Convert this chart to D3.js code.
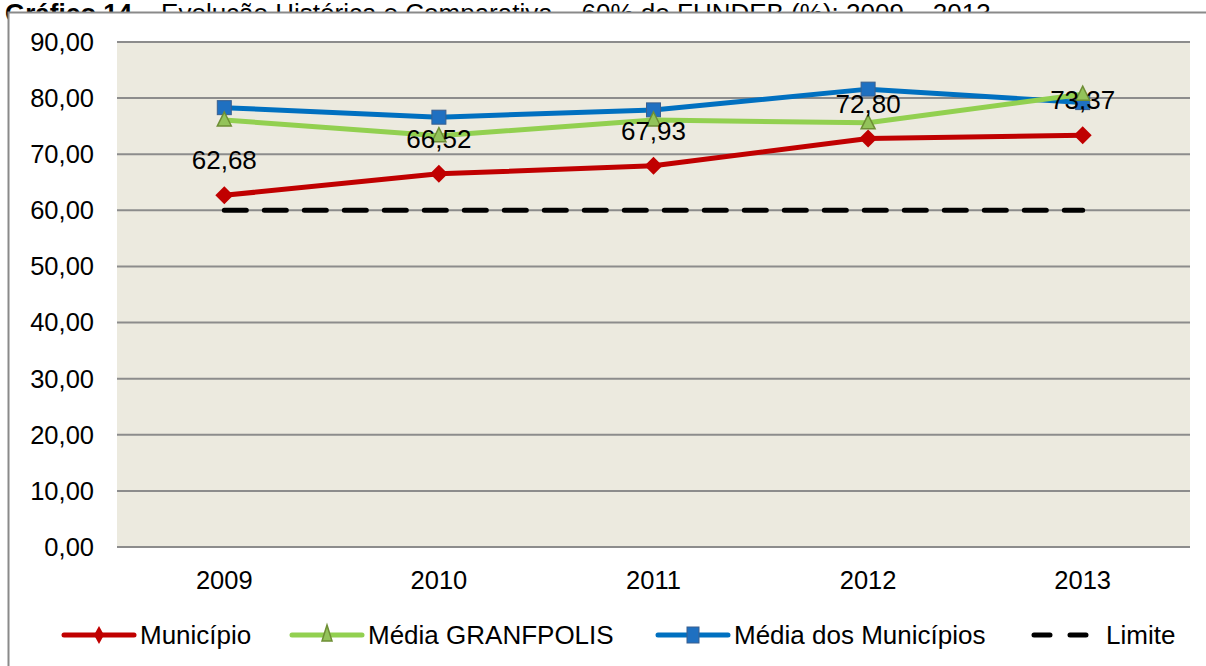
<!DOCTYPE html>
<html>
<head>
<meta charset="utf-8">
<script src="https://cdn.jsdelivr.net/npm/d3@7/dist/d3.min.js"></script>
<style>
  body { margin: 0; background: #fff; }
  svg { font-family: "Liberation Sans", Arial, sans-serif; }
</style>
</head>
<body>
<svg id="chart" width="1206" height="666"></svg>
<script>
const years = ["2009", "2010", "2011", "2012", "2013"];
const municipio = [62.68, 66.52, 67.93, 72.80, 73.37];
const mediaGranfpolis = [76.1, 73.3, 76.1, 75.6, 80.7];
const mediaMunicipios = [78.3, 76.6, 77.9, 81.6, 79.2];
const limite = [60, 60, 60, 60, 60];
const yTicks = [0, 10, 20, 30, 40, 50, 60, 70, 80, 90];

const svg = d3.select("#chart");
const margin = { left: 117, right: 16, top: 42, bottom: 119 };
const W = 1206, H = 666;

// title, mostly hidden behind the chart frame
svg.append("text")
  .attr("x", 5).attr("y", 22)
  .attr("font-size", 26)
  .html('<tspan font-weight="bold">Gráfico 14</tspan> – Evolução Histórica e Comparativa – 60% do FUNDEB (%): 2009 – 2013');

// chart frame
svg.append("rect")
  .attr("x", 8.5).attr("y", 12.5)
  .attr("width", 1220).attr("height", 700)
  .attr("fill", "#fff").attr("stroke", "#8a8a8a").attr("stroke-width", 2);

const x = d3.scaleBand().domain(years).range([margin.left, W - margin.right]);
const y = d3.scaleLinear().domain([0, 90]).range([H - margin.bottom, margin.top]);

svg.append("rect")
  .attr("x", margin.left).attr("y", margin.top)
  .attr("width", W - margin.right - margin.left)
  .attr("height", H - margin.bottom - margin.top)
  .attr("fill", "#ECEADF");

// gridlines
svg.append("g")
  .selectAll("line")
  .data(yTicks)
  .join("line")
  .attr("x1", margin.left).attr("x2", W - margin.right)
  .attr("y1", d => y(d)).attr("y2", d => y(d))
  .attr("stroke", "#8c8c8c").attr("stroke-width", 2);

const fmt = d => d3.format(".2f")(d).replace(".", ",");

// y axis labels
svg.append("g")
  .selectAll("text")
  .data(yTicks)
  .join("text")
  .attr("x", 94).attr("y", d => y(d))
  .attr("dy", "0.35em")
  .attr("text-anchor", "end")
  .attr("font-size", 25.5)
  .text(fmt);

// x axis labels
svg.append("g")
  .selectAll("text")
  .data(years)
  .join("text")
  .attr("x", d => x(d) + x.bandwidth() / 2)
  .attr("y", 580)
  .attr("dy", "0.35em")
  .attr("text-anchor", "middle")
  .attr("font-size", 25.5)
  .text(d => d);

const cx = (d, i) => x(years[i]) + x.bandwidth() / 2;
const line = d3.line().x((d, i) => cx(d, i)).y(d => y(d));

// limite
svg.append("path")
  .datum(limite)
  .attr("d", line)
  .attr("fill", "none")
  .attr("stroke", "#000").attr("stroke-width", 5)
  .attr("stroke-dasharray", "22,18")
  .attr("stroke-linecap", "round");

const series = [
  { name: "Média dos Municípios", values: mediaMunicipios, color: "#0070C0", marker: "square" },
  { name: "Média GRANFPOLIS", values: mediaGranfpolis, color: "#92D050", marker: "triangle" },
  { name: "Município", values: municipio, color: "#C00000", marker: "diamond" }
];

function drawMarker(g, type, px, py) {
  if (type === "square") {
    g.append("rect")
      .attr("x", px - 7).attr("y", py - 7).attr("width", 14).attr("height", 14)
      .attr("fill", "#1F70C1").attr("stroke", "#3A5F8E").attr("stroke-width", 1);
  } else if (type === "triangle") {
    g.append("path")
      .attr("d", `M${px},${py - 8}L${px + 7},${py + 6}L${px - 7},${py + 6}Z`)
      .attr("fill", "#93C35A").attr("stroke", "#6E8E35").attr("stroke-width", 1.5);
  } else {
    g.append("path")
      .attr("d", `M${px},${py - 9}L${px + 9},${py}L${px},${py + 9}L${px - 9},${py}Z`)
      .attr("fill", "#C00000");
  }
}

series.forEach(s => {
  const g = svg.append("g");
  g.append("path")
    .datum(s.values)
    .attr("d", line)
    .attr("fill", "none")
    .attr("stroke", s.color).attr("stroke-width", 5)
    .attr("stroke-linejoin", "round");
  s.values.forEach((v, i) => drawMarker(g, s.marker, cx(v, i), y(v)));
});

// data labels for Município
svg.append("g")
  .selectAll("text")
  .data(municipio)
  .join("text")
  .attr("x", (d, i) => cx(d, i))
  .attr("y", d => y(d) - 35)
  .attr("dy", "0.35em")
  .attr("text-anchor", "middle")
  .attr("font-size", 26)
  .text(fmt);

// legend
const legendItems = [
  { name: "Município", color: "#C00000", marker: "diamond", x: 64 },
  { name: "Média GRANFPOLIS", color: "#92D050", marker: "triangle", x: 292 },
  { name: "Média dos Municípios", color: "#0070C0", marker: "square", x: 658 },
  { name: "Limite", color: "#000", marker: "dash", x: 1030 }
];
const ly = 635;
legendItems.forEach(it => {
  const g = svg.append("g");
  if (it.marker === "dash") {
    g.append("line")
      .attr("x1", it.x + 4).attr("x2", it.x + 70)
      .attr("y1", ly).attr("y2", ly)
      .attr("stroke", "#000").attr("stroke-width", 5)
      .attr("stroke-dasharray", "16,20").attr("stroke-linecap", "round");
  } else {
    g.append("line")
      .attr("x1", it.x).attr("x2", it.x + 70)
      .attr("y1", ly).attr("y2", ly)
      .attr("stroke", it.color).attr("stroke-width", 5)
      .attr("stroke-linecap", "round");
    if (it.marker === "square") {
      g.append("rect").attr("x", it.x + 29).attr("y", ly - 8).attr("width", 12).attr("height", 16)
        .attr("fill", "#1F70C1").attr("stroke", "#3A5F8E");
    } else if (it.marker === "triangle") {
      g.append("path")
        .attr("d", `M${it.x + 35},${ly - 10}L${it.x + 40},${ly + 6}L${it.x + 30},${ly + 6}Z`)
        .attr("fill", "#93C35A").attr("stroke", "#6E8E35").attr("stroke-width", 1.5);
    } else {
      g.append("path")
        .attr("d", `M${it.x + 35},${ly - 9}L${it.x + 40},${ly}L${it.x + 35},${ly + 9}L${it.x + 30},${ly}Z`)
        .attr("fill", "#C00000");
    }
  }
  g.append("text")
    .attr("x", it.x + 76).attr("y", ly)
    .attr("dy", "0.35em")
    .attr("font-size", 26)
    .text(it.name);
});
</script>
</body>
</html>
